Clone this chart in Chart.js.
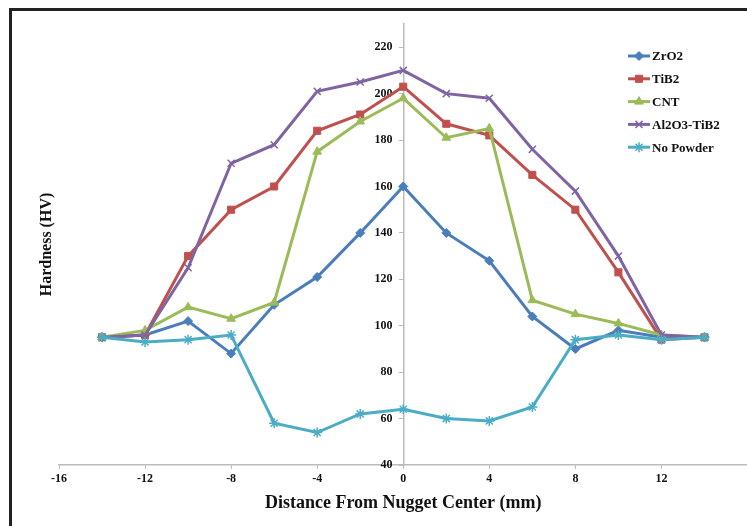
<!DOCTYPE html>
<html>
<head>
<meta charset="utf-8">
<script src="https://cdn.jsdelivr.net/npm/chart.js@4.4.1/dist/chart.umd.min.js"></script>
<style>
    html, body { margin: 0; padding: 0; background: #fff; overflow: hidden; }
    #wrap { position: relative; width: 747px; height: 526px; overflow: hidden; }
    #frame {
        position: absolute; left: 9px; top: 8px; width: 760px; height: 540px;
        border-left: 3px solid #222; border-top: 3px solid #222; pointer-events: none;
    }
    canvas { position: absolute; left: 0; top: 0; }
</style>
</head>
<body>
<div id="wrap">
    <canvas id="chart" width="754" height="526"></canvas>
    <div id="frame"></div>
</div>
<script>
(function () {
    'use strict';

    var FONT = '"Liberation Serif", "Times New Roman", serif';

    var distances = [-14, -12, -10, -8, -6, -4, -2, 0, 2, 4, 6, 8, 10, 12, 14];
    var zro2 = [95, 96, 102, 88, 109, 121, 140, 160, 140, 128, 104, 90, 98, 95, 95];
    var tib2 = [95, 96, 130, 150, 160, 184, 191, 203, 187, 182, 165, 150, 123, 94, 95];
    var cnt = [95, 98, 108, 103, 110, 175, 188, 198, 181, 185, 111, 105, 101, 96, 95];
    var al2o3Tib2 = [95, 96, 125, 170, 178, 201, 205, 210, 200, 198, 176, 158, 130, 96, 95];
    var noPowder = [95, 93, 94, 96, 58, 54, 62, 64, 60, 59, 65, 94, 96, 94, 95];

    var xTicks = [-16, -12, -8, -4, 0, 4, 8, 12];
    var yTicks = [40, 60, 80, 100, 120, 140, 160, 180, 200, 220];

    function points(values) {
        var out = [];
        for (var i = 0; i < distances.length; i++) {
            out.push({ x: distances[i], y: values[i] });
        }
        return out;
    }

    function series(label, values, color, style, radius, order) {
        return {
            label: label,
            data: points(values),
            borderColor: color,
            backgroundColor: color,
            pointBorderColor: color,
            pointBackgroundColor: color,
            borderWidth: 3,
            pointStyle: style,
            pointRadius: radius,
            pointBorderWidth: (style === 'crossRot' || style === 'star') ? 1.5 : 1,
            tension: 0,
            order: order
        };
    }

    // y axis title + in-plot legend, drawn after the datasets
    var extras = {
        id: 'extras',
        afterDraw: function (chart) {
            var ctx = chart.ctx;
            var area = chart.chartArea;
            ctx.save();
            ctx.fillStyle = '#111';
            ctx.font = 'bold 16px ' + FONT;
            ctx.textAlign = 'center';
            ctx.textBaseline = 'middle';
            ctx.translate(47, (area.top + area.bottom) / 2);
            ctx.rotate(-Math.PI / 2);
            ctx.fillText('Hardness (HV)', 0, 0);
            ctx.restore();

            var x0 = 628, y0 = 56, step = 22.8;
            ctx.save();
            ctx.font = 'bold 13px ' + FONT;
            ctx.textBaseline = 'middle';
            ctx.textAlign = 'left';
            chart.data.datasets.forEach(function (ds, i) {
                var y = y0 + i * step;
                ctx.strokeStyle = ds.borderColor;
                ctx.lineWidth = 3;
                ctx.beginPath();
                ctx.moveTo(x0, y);
                ctx.lineTo(x0 + 22, y);
                ctx.stroke();
                ctx.lineWidth = ds.pointBorderWidth;
                ctx.fillStyle = ds.pointBackgroundColor;
                Chart.helpers.drawPoint(ctx, {
                    pointStyle: ds.pointStyle,
                    radius: ds.pointRadius,
                    rotation: 0,
                    borderWidth: ds.pointBorderWidth
                }, x0 + 11, y);
                ctx.fillStyle = '#111';
                ctx.fillText(ds.label, x0 + 24, y + 1);
            });
            ctx.restore();
        }
    };

    new Chart(document.getElementById('chart'), {
        type: 'line',
        data: {
            datasets: [
                series('ZrO2', zro2, '#4a7ebb', 'rectRot', 4.5, 5),
                series('TiB2', tib2, '#c0504d', 'rect', 5, 4),
                series('CNT', cnt, '#9bbb59', 'triangle', 5, 3),
                series('Al2O3-TiB2', al2o3Tib2, '#8064a2', 'crossRot', 5, 2),
                series('No Powder', noPowder, '#4bacc6', 'star', 5, 1)
            ]
        },
        plugins: [extras],
        options: {
            responsive: false,
            animation: false,
            layout: { padding: { left: 59, right: 0, top: 24, bottom: 12 } },
            plugins: {
                legend: { display: false },
                tooltip: { enabled: false }
            },
            scales: {
                x: {
                    type: 'linear',
                    min: -16,
                    max: 16,
                    afterBuildTicks: function (axis) {
                        axis.ticks = xTicks.map(function (v) { return { value: v }; });
                    },
                    ticks: {
                        color: '#111',
                        font: { family: FONT, size: 12, weight: 'bold' },
                        padding: 3,
                        maxRotation: 0
                    },
                    grid: { display: true, drawOnChartArea: false, tickLength: 4, color: '#bbb' },
                    border: { color: '#bbb', width: 1.5 },
                    title: {
                        display: true,
                        text: 'Distance From Nugget Center (mm)',
                        color: '#111',
                        font: { family: FONT, size: 18, weight: 'bold' },
                        padding: { top: 3, bottom: 0 }
                    }
                },
                y: {
                    type: 'linear',
                    position: { x: 0 },
                    min: 40,
                    max: 230,
                    afterBuildTicks: function (axis) {
                        axis.ticks = yTicks.map(function (v) { return { value: v }; });
                    },
                    ticks: {
                        color: '#111',
                        font: { family: FONT, size: 12, weight: 'bold' },
                        // positioned axes ignore padding, so pad the label itself
                        callback: function (v) { return v + '\u2002\u2009\u2009'; }
                    },
                    grid: { display: true, drawOnChartArea: false, tickLength: 4, color: '#bbb' },
                    border: { color: '#bbb', width: 1.5 }
                }
            }
        }
    });
})();
</script>
</body>
</html>
